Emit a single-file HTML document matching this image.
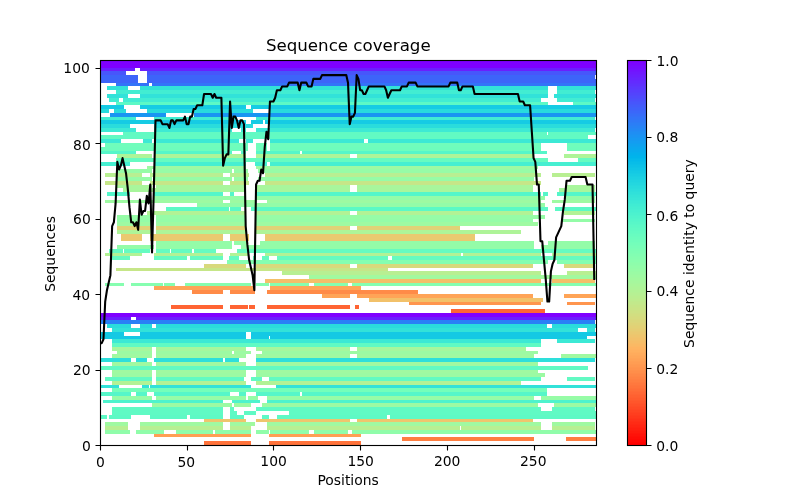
<!DOCTYPE html>
<html lang="en"><head><meta charset="utf-8"><title>Sequence coverage</title>
<style>
html,body{margin:0;padding:0;background:#fff;width:800px;height:500px;overflow:hidden}
svg{display:block}
text{font-family:'DejaVu Sans','Liberation Sans',sans-serif;fill:#000}
</style></head><body>
<svg width="800" height="500" viewBox="0 0 800 500">
<rect width="800" height="500" fill="#fff"/>
<g shape-rendering="crispEdges">
<path fill="#7f00ff" d="M100 60h496v4h-496z"/>
<path fill="#7f00ff" d="M100 64h496v4h-496z"/>
<path fill="#6b1ffe" d="M100 68h35v3h-35zM140 68h456v3h-456z"/>
<path fill="#4756fb" d="M100 71h26v4h-26zM147 71h449v4h-449z"/>
<path fill="#3d64f9" d="M100 75h38v4h-38zM147 75h448v4h-448z"/>
<path fill="#3d64f9" d="M100 79h38v4h-38zM147 79h449v4h-449z"/>
<path fill="#3373f8" d="M116 83h33v3h-33zM152 83h444v3h-444z"/>
<path fill="#32e2d9" d="M107 86h21v4h-21zM140 86h408v4h-408zM557 86h39v4h-39z"/>
<path fill="#42edd2" d="M116 90h432v4h-432zM557 90h38v4h-38z"/>
<path fill="#32e2d9" d="M107 94h21v4h-21zM140 94h408v4h-408zM554 94h42v4h-42z"/>
<path fill="#42edd2" d="M109 98h10v4h-10zM123 98h418v4h-418zM557 98h38v4h-38z"/>
<path fill="#5cf9c6" d="M116 102h432v3h-432zM573 102h23v3h-23z"/>
<path fill="#16cbe4" d="M100 105h24v4h-24zM140 105h106v4h-106zM251 105h345v4h-345z"/>
<path fill="#28dbdd" d="M100 109h9v4h-9zM114 109h12v4h-12zM147 109h106v4h-106zM270 109h326v4h-326z"/>
<path fill="#1995f2" d="M110 113h56v4h-56zM194 113h402v4h-402z"/>
<path fill="#42edd2" d="M100 117h36v3h-36zM154 117h83v3h-83zM256 117h339v3h-339z"/>
<path fill="#16cbe4" d="M100 120h146v4h-146zM251 120h12v4h-12zM265 120h331v4h-331z"/>
<path fill="#2adcdc" d="M100 124h30v4h-30zM154 124h99v4h-99zM270 124h326v4h-326z"/>
<path fill="#3eead4" d="M100 128h36v4h-36zM154 128h78v4h-78zM241 128h5v4h-5zM256 128h339v4h-339z"/>
<path fill="#62fac3" d="M123 132h424v3h-424zM548 132h48v3h-48z"/>
<path fill="#62fac3" d="M100 135h488v4h-488z"/>
<path fill="#3ce9d5" d="M100 139h21v4h-21zM143 139h9v4h-9zM154 139h85v4h-85zM246 139h7v4h-7zM270 139h94v4h-94zM368 139h228v4h-228z"/>
<path fill="#70fdbc" d="M105 143h143v4h-143zM256 143h11v4h-11zM270 143h271v4h-271zM567 143h29v4h-29z"/>
<path fill="#6efdbd" d="M100 147h148v4h-148zM256 147h11v4h-11zM270 147h271v4h-271zM567 147h29v4h-29z"/>
<path fill="#56f6c9" d="M100 151h36v3h-36zM154 151h78v3h-78zM241 151h5v3h-5zM256 151h44v3h-44zM302 151h245v3h-245z"/>
<path fill="#aef498" d="M117 154h35v4h-35zM154 154h92v4h-92zM256 154h94v4h-94zM357 154h177v4h-177zM564 154h32v4h-32z"/>
<path fill="#66fbc1" d="M116 158h107v4h-107zM225 158h323v4h-323zM578 158h18v4h-18z"/>
<path fill="#46efd1" d="M100 162h30v4h-30zM154 162h92v4h-92zM255 162h12v4h-12zM270 162h326v4h-326z"/>
<path fill="#9efaa2" d="M147 166h99v3h-99zM256 166h282v3h-282z"/>
<path fill="#96fca7" d="M117 169h35v4h-35zM154 169h78v4h-78zM234 169h14v4h-14zM258 169h278v4h-278z"/>
<path fill="#b8ef92" d="M105 173h37v4h-37zM150 173h73v4h-73zM230 173h19v4h-19zM265 173h276v4h-276zM552 173h43v4h-43z"/>
<path fill="#96fca7" d="M117 177h35v4h-35zM154 177h78v4h-78zM234 177h14v4h-14zM258 177h276v4h-276z"/>
<path fill="#c6e688" d="M105 181h37v4h-37zM150 181h73v4h-73zM230 181h19v4h-19zM265 181h276v4h-276z"/>
<path fill="#a8f69c" d="M117 185h35v3h-35zM156 185h90v3h-90zM256 185h94v3h-94zM357 185h176v3h-176zM566 185h29v3h-29z"/>
<path fill="#a8f69c" d="M123 188h123v4h-123zM256 188h94v4h-94zM357 188h176v4h-176zM559 188h36v4h-36z"/>
<path fill="#54f6ca" d="M107 192h23v4h-23zM154 192h69v4h-69zM230 192h4v4h-4zM256 192h285v4h-285zM543 192h5v4h-5zM557 192h39v4h-39z"/>
<path fill="#94fca8" d="M154 196h92v4h-92zM256 196h289v4h-289zM566 196h29v4h-29z"/>
<path fill="#9efaa2" d="M105 200h118v3h-118zM230 200h25v3h-25zM267 200h274v3h-274zM552 200h43v3h-43z"/>
<path fill="#94fca8" d="M197 203h348v4h-348z"/>
<path fill="#5cf9c6" d="M166 207h63v4h-63zM230 207h11v4h-11zM251 207h297v4h-297zM555 207h41v4h-41z"/>
<path fill="#b2f295" d="M147 211h99v4h-99zM256 211h94v4h-94zM357 211h176v4h-176zM564 211h31v4h-31z"/>
<path fill="#96fca7" d="M117 215h35v4h-35zM156 215h90v4h-90zM256 215h289v4h-289z"/>
<path fill="#94fca8" d="M117 219h35v3h-35zM156 219h90v3h-90zM256 219h277v3h-277zM562 219h33v3h-33z"/>
<path fill="#9efaa2" d="M117 222h35v4h-35zM156 222h90v4h-90zM256 222h282v4h-282z"/>
<path fill="#e0d277" d="M117 226h35v4h-35zM156 226h90v4h-90zM256 226h94v4h-94zM357 226h103v4h-103z"/>
<path fill="#aef498" d="M117 230h35v4h-35zM156 230h90v4h-90zM256 230h265v4h-265z"/>
<path fill="#eac970" d="M121 234h21v3h-21zM150 234h73v3h-73zM230 234h19v3h-19zM265 234h210v3h-210z"/>
<path fill="#eac970" d="M121 237h21v4h-21zM150 237h73v4h-73zM230 237h19v4h-19zM265 237h210v4h-210z"/>
<path fill="#94fca8" d="M156 241h76v4h-76zM234 241h14v4h-14zM260 241h274v4h-274zM548 241h47v4h-47z"/>
<path fill="#94fca8" d="M117 245h37v4h-37zM156 245h76v4h-76zM241 245h293v4h-293zM541 245h54v4h-54z"/>
<path fill="#66fbc1" d="M109 249h14v4h-14zM124 249h26v4h-26zM156 249h14v4h-14zM171 249h21v4h-21zM194 249h22v4h-22zM237 249h359v4h-359z"/>
<path fill="#b2f295" d="M105 253h37v3h-37zM154 253h69v3h-69zM230 253h19v3h-19zM265 253h196v3h-196zM463 253h78v3h-78zM552 253h44v3h-44z"/>
<path fill="#66fbc1" d="M110 256h20v4h-20zM154 256h33v4h-33zM190 256h33v4h-33zM229 256h10v4h-10zM253 256h3v4h-3zM262 256h7v4h-7zM277 256h111v4h-111zM392 256h204v4h-204z"/>
<path fill="#84feb1" d="M227 260h321v4h-321zM557 260h39v4h-39z"/>
<path fill="#d8d97c" d="M204 264h42v4h-42zM256 264h94v4h-94zM357 264h176v4h-176zM564 264h31v4h-31z"/>
<path fill="#c6e688" d="M116 268h272v3h-272z"/>
<path fill="#b8ef92" d="M282 271h259v4h-259zM567 271h29v4h-29z"/>
<path fill="#a2f99f" d="M309 275h287v4h-287z"/>
<path fill="#f4bf69" d="M265 279h276v4h-276zM552 279h43v4h-43z"/>
<path fill="#86feb0" d="M105 283h19v3h-19zM131 283h32v3h-32zM164 283h11v3h-11zM185 283h66v3h-66zM256 283h13v3h-13zM270 283h39v3h-39zM314 283h34v3h-34zM352 283h244v3h-244z"/>
<path fill="#ffa457" d="M154 286h101v4h-101zM270 286h91v4h-91z"/>
<path fill="#ff8b48" d="M192 290h31v4h-31zM230 290h25v4h-25zM267 290h151v4h-151z"/>
<path fill="#ffa457" d="M322 294h28v4h-28zM357 294h176v4h-176zM564 294h32v4h-32z"/>
<path fill="#f2c16a" d="M369 298h174v4h-174z"/>
<path fill="#ff954e" d="M409 302h132v3h-132zM567 302h28v3h-28z"/>
<path fill="#ff6433" d="M171 305h52v4h-52zM230 305h18v4h-18zM249 305h6v4h-6zM267 305h83v4h-83zM355 305h4v4h-4z"/>
<path fill="#ff6433" d="M451 309h94v4h-94z"/>
<path fill="#7f00ff" d="M100 313h496v4h-496z"/>
<path fill="#6b1ffe" d="M100 317h31v3h-31zM136 317h460v3h-460z"/>
<path fill="#2980f6" d="M100 320h495v4h-495z"/>
<path fill="#2adcdc" d="M107 324h24v4h-24zM140 324h12v4h-12zM156 324h391v4h-391zM552 324h44v4h-44z"/>
<path fill="#32e2d9" d="M112 328h466v4h-466zM587 328h8v4h-8z"/>
<path fill="#14c9e4" d="M100 332h24v4h-24zM140 332h106v4h-106zM251 332h345v4h-345z"/>
<path fill="#14c9e4" d="M100 336h146v3h-146zM251 336h18v3h-18zM270 336h317v3h-317z"/>
<path fill="#3ce9d5" d="M112 339h429v4h-429zM557 339h38v4h-38z"/>
<path fill="#60fac4" d="M112 343h429v4h-429z"/>
<path fill="#a6f79d" d="M112 347h40v4h-40zM156 347h90v4h-90zM256 347h94v4h-94zM357 347h169v4h-169z"/>
<path fill="#9cfaa3" d="M117 351h35v3h-35zM156 351h76v3h-76zM234 351h17v3h-17zM262 351h276v3h-276z"/>
<path fill="#a0f9a1" d="M112 354h40v4h-40zM156 354h90v4h-90zM256 354h94v4h-94zM357 354h177v4h-177zM561 354h35v4h-35z"/>
<path fill="#2edfdb" d="M100 358h31v4h-31zM136 358h11v4h-11zM154 358h69v4h-69zM225 358h14v4h-14zM256 358h339v4h-339z"/>
<path fill="#a0f9a1" d="M112 362h40v4h-40zM156 362h90v4h-90zM256 362h282v4h-282z"/>
<path fill="#62fac3" d="M100 366h488v4h-488z"/>
<path fill="#a0f9a1" d="M112 370h40v3h-40zM156 370h90v3h-90zM256 370h282v3h-282z"/>
<path fill="#9cfaa3" d="M112 373h40v4h-40zM156 373h90v4h-90zM256 373h289v4h-289z"/>
<path fill="#62fac3" d="M105 377h47v4h-47zM156 377h88v4h-88zM251 377h11v4h-11zM269 377h272v4h-272zM567 377h28v4h-28z"/>
<path fill="#b2f295" d="M112 381h40v4h-40zM156 381h90v4h-90zM256 381h265v4h-265z"/>
<path fill="#32e2d9" d="M100 385h19v3h-19zM142 385h7v3h-7zM150 385h101v3h-101zM276 385h320v3h-320z"/>
<path fill="#74feba" d="M112 388h435v4h-435z"/>
<path fill="#56f6c9" d="M100 392h31v4h-31zM136 392h11v4h-11zM154 392h76v4h-76zM239 392h7v4h-7zM256 392h44v4h-44zM302 392h245v4h-245z"/>
<path fill="#96fca7" d="M112 396h40v4h-40zM156 396h90v4h-90zM248 396h10v4h-10zM267 396h267v4h-267zM541 396h55v4h-55z"/>
<path fill="#4ef3cd" d="M103 400h120v3h-120zM232 400h28v3h-28zM267 400h329v3h-329z"/>
<path fill="#9cfaa3" d="M152 403h80v4h-80zM234 403h17v4h-17zM262 403h276v4h-276zM554 403h42v4h-42z"/>
<path fill="#60fac4" d="M112 407h111v4h-111zM230 407h4v4h-4zM256 407h285v4h-285zM552 407h43v4h-43z"/>
<path fill="#60fac4" d="M112 411h111v4h-111zM230 411h7v4h-7zM244 411h12v4h-12zM289 411h307v4h-307z"/>
<path fill="#5ef9c5" d="M100 415h7v4h-7zM109 415h22v4h-22zM150 415h37v4h-37zM190 415h33v4h-33zM230 415h14v4h-14zM262 415h7v4h-7zM277 415h110v4h-110zM390 415h206v4h-206z"/>
<path fill="#eec56d" d="M204 419h42v3h-42zM256 419h94v3h-94zM357 419h176v3h-176z"/>
<path fill="#a0f9a1" d="M105 422h23v4h-23zM140 422h83v4h-83zM230 422h25v4h-25zM267 422h274v4h-274zM552 422h43v4h-43z"/>
<path fill="#b8ef92" d="M105 426h23v4h-23zM140 426h83v4h-83zM230 426h21v4h-21zM267 426h193v4h-193zM461 426h80v4h-80zM552 426h43v4h-43z"/>
<path fill="#90fdaa" d="M105 430h25v4h-25zM136 430h28v4h-28zM176 430h37v4h-37zM215 430h36v4h-36zM256 430h13v4h-13zM270 430h39v4h-39zM314 430h34v4h-34zM352 430h244v4h-244z"/>
<path fill="#ff9f54" d="M154 434h97v3h-97zM269 434h92v3h-92z"/>
<path fill="#ff7e41" d="M402 437h132v4h-132zM566 437h30v4h-30z"/>
<path fill="#ff733b" d="M204 441h47v4h-47zM269 441h92v4h-92z"/>
</g>
<clipPath id="axclip"><rect x="100" y="60" width="496" height="385"/></clipPath>
<polyline clip-path="url(#axclip)" points="100.00,343.09 101.73,343.09 103.47,339.31 105.20,301.57 106.94,290.25 108.67,282.70 110.41,275.15 112.14,226.08 113.87,222.30 115.61,203.43 117.34,161.91 119.08,169.46 120.81,165.69 122.55,158.14 124.28,165.69 126.01,173.24 127.75,188.33 129.48,207.21 131.22,222.30 132.95,222.30 134.69,226.08 136.42,222.30 138.15,229.85 139.89,199.66 141.62,214.75 143.36,210.98 145.09,210.98 146.83,195.88 148.56,203.43 150.29,184.56 152.03,252.50 153.76,192.11 155.50,120.39 157.23,120.39 158.97,120.39 160.70,120.39 162.43,124.17 164.17,124.17 165.90,124.17 167.64,124.17 169.37,127.94 171.10,120.39 172.84,120.39 174.57,124.17 176.31,120.39 178.04,120.39 179.78,120.39 181.51,120.39 183.24,120.39 184.98,116.62 186.71,124.17 188.45,124.17 190.18,116.62 191.92,116.62 193.65,109.07 195.38,109.07 197.12,105.29 198.85,105.29 200.59,105.29 202.32,105.29 204.06,93.97 205.79,93.97 207.52,93.97 209.26,93.97 210.99,93.97 212.73,97.75 214.46,93.97 216.20,97.75 217.93,97.75 219.66,97.75 221.40,97.75 223.13,165.69 224.87,158.14 226.60,154.36 228.34,154.36 230.07,101.52 231.80,127.94 233.54,116.62 235.27,116.62 237.01,120.39 238.74,127.94 240.48,120.39 242.21,120.39 243.94,124.17 245.68,226.08 247.41,244.95 249.15,260.05 250.88,267.60 252.62,275.15 254.35,290.25 256.08,184.56 257.82,180.78 259.55,180.78 261.29,169.46 263.02,173.24 264.76,146.81 266.49,131.72 268.22,139.26 269.96,101.52 271.69,101.52 273.43,101.52 275.16,97.75 276.90,90.20 278.63,90.20 280.36,90.20 282.10,86.42 283.83,86.42 285.57,86.42 287.30,86.42 289.03,82.65 290.77,82.65 292.50,82.65 294.24,82.65 295.97,82.65 297.71,82.65 299.44,90.20 301.17,82.65 302.91,82.65 304.64,82.65 306.38,82.65 308.11,86.42 309.85,86.42 311.58,86.42 313.31,78.87 315.05,78.87 316.78,78.87 318.52,78.87 320.25,78.87 321.99,75.10 323.72,75.10 325.45,75.10 327.19,75.10 328.92,75.10 330.66,75.10 332.39,75.10 334.13,75.10 335.86,75.10 337.59,75.10 339.33,75.10 341.06,75.10 342.80,75.10 344.53,75.10 346.27,75.10 348.00,82.65 349.73,124.17 351.47,116.62 353.20,116.62 354.94,112.84 356.67,75.10 358.41,78.87 360.14,90.20 361.87,90.20 363.61,93.97 365.34,93.97 367.08,90.20 368.81,86.42 370.55,86.42 372.28,86.42 374.01,86.42 375.75,86.42 377.48,86.42 379.22,86.42 380.95,86.42 382.69,86.42 384.42,86.42 386.15,90.20 387.89,97.75 389.62,93.97 391.36,90.20 393.09,90.20 394.83,90.20 396.56,90.20 398.29,90.20 400.03,90.20 401.76,86.42 403.50,86.42 405.23,86.42 406.97,86.42 408.70,82.65 410.43,82.65 412.17,82.65 413.90,82.65 415.64,82.65 417.37,86.42 419.10,86.42 420.84,86.42 422.57,86.42 424.31,86.42 426.04,86.42 427.78,86.42 429.51,86.42 431.24,86.42 432.98,86.42 434.71,86.42 436.45,86.42 438.18,86.42 439.92,86.42 441.65,86.42 443.38,86.42 445.12,86.42 446.85,86.42 448.59,86.42 450.32,82.65 452.06,82.65 453.79,82.65 455.52,82.65 457.26,82.65 458.99,90.20 460.73,90.20 462.46,86.42 464.20,86.42 465.93,86.42 467.66,86.42 469.40,86.42 471.13,86.42 472.87,86.42 474.60,93.97 476.34,93.97 478.07,93.97 479.80,93.97 481.54,93.97 483.27,93.97 485.01,93.97 486.74,93.97 488.48,93.97 490.21,93.97 491.94,93.97 493.68,93.97 495.41,93.97 497.15,93.97 498.88,93.97 500.62,93.97 502.35,93.97 504.08,93.97 505.82,93.97 507.55,93.97 509.29,93.97 511.02,93.97 512.76,93.97 514.49,93.97 516.22,93.97 517.96,93.97 519.69,101.52 521.43,101.52 523.16,101.52 524.90,105.29 526.63,105.29 528.36,105.29 530.10,105.29 531.83,131.72 533.57,158.14 535.30,161.91 537.03,184.56 538.77,184.56 540.50,241.18 542.24,241.18 543.97,260.05 545.71,278.92 547.44,301.57 549.17,301.57 550.91,271.37 552.64,263.82 554.38,260.05 556.11,237.40 557.85,233.63 559.58,229.85 561.31,226.08 563.05,210.98 564.78,199.66 566.52,180.78 568.25,180.78 569.99,180.78 571.72,177.01 573.45,177.01 575.19,177.01 576.92,177.01 578.66,177.01 580.39,177.01 582.13,177.01 583.86,177.01 585.59,177.01 587.33,184.56 589.06,184.56 590.80,184.56 592.53,184.56 594.27,278.92" fill="none" stroke="#000" stroke-width="2.0833" stroke-linejoin="round" stroke-linecap="square"/>
<rect x="100.5" y="60.5" width="496" height="385" fill="none" stroke="#000" stroke-width="1.111"/>
<g shape-rendering="crispEdges">
<rect x="627" y="60" width="19" height="2" fill="#7f00ff"/>
<rect x="627" y="62" width="19" height="1" fill="#7d03fe"/>
<rect x="627" y="63" width="19" height="2" fill="#7b06fe"/>
<rect x="627" y="65" width="19" height="1" fill="#7909fe"/>
<rect x="627" y="66" width="19" height="2" fill="#770cfe"/>
<rect x="627" y="68" width="19" height="1" fill="#750ffe"/>
<rect x="627" y="69" width="19" height="2" fill="#7312fe"/>
<rect x="627" y="71" width="19" height="1" fill="#7115fe"/>
<rect x="627" y="72" width="19" height="2" fill="#6f19fe"/>
<rect x="627" y="74" width="19" height="1" fill="#6d1cfe"/>
<rect x="627" y="75" width="19" height="2" fill="#6b1ffe"/>
<rect x="627" y="77" width="19" height="1" fill="#6922fe"/>
<rect x="627" y="78" width="19" height="2" fill="#6725fe"/>
<rect x="627" y="80" width="19" height="1" fill="#6528fe"/>
<rect x="627" y="81" width="19" height="2" fill="#632bfe"/>
<rect x="627" y="83" width="19" height="1" fill="#612efd"/>
<rect x="627" y="84" width="19" height="2" fill="#5f31fd"/>
<rect x="627" y="86" width="19" height="1" fill="#5d35fd"/>
<rect x="627" y="87" width="19" height="2" fill="#5b38fd"/>
<rect x="627" y="89" width="19" height="1" fill="#593bfd"/>
<rect x="627" y="90" width="19" height="2" fill="#573efd"/>
<rect x="627" y="92" width="19" height="1" fill="#5541fc"/>
<rect x="627" y="93" width="19" height="2" fill="#5344fc"/>
<rect x="627" y="95" width="19" height="1" fill="#5147fc"/>
<rect x="627" y="96" width="19" height="2" fill="#4f4afc"/>
<rect x="627" y="98" width="19" height="1" fill="#4d4dfb"/>
<rect x="627" y="99" width="19" height="2" fill="#4b50fb"/>
<rect x="627" y="101" width="19" height="1" fill="#4953fb"/>
<rect x="627" y="102" width="19" height="2" fill="#4756fb"/>
<rect x="627" y="104" width="19" height="1" fill="#4559fa"/>
<rect x="627" y="105" width="19" height="2" fill="#435cfa"/>
<rect x="627" y="107" width="19" height="1" fill="#415ffa"/>
<rect x="627" y="108" width="19" height="2" fill="#3f61fa"/>
<rect x="627" y="110" width="19" height="1" fill="#3d64f9"/>
<rect x="627" y="111" width="19" height="2" fill="#3b67f9"/>
<rect x="627" y="113" width="19" height="1" fill="#396af9"/>
<rect x="627" y="114" width="19" height="2" fill="#376df8"/>
<rect x="627" y="116" width="19" height="1" fill="#3570f8"/>
<rect x="627" y="117" width="19" height="2" fill="#3373f8"/>
<rect x="627" y="119" width="19" height="1" fill="#3175f7"/>
<rect x="627" y="120" width="19" height="2" fill="#2f78f7"/>
<rect x="627" y="122" width="19" height="1" fill="#2d7bf6"/>
<rect x="627" y="123" width="19" height="2" fill="#2b7ef6"/>
<rect x="627" y="125" width="19" height="1" fill="#2980f6"/>
<rect x="627" y="126" width="19" height="2" fill="#2783f5"/>
<rect x="627" y="128" width="19" height="1" fill="#2586f5"/>
<rect x="627" y="129" width="19" height="2" fill="#2388f4"/>
<rect x="627" y="131" width="19" height="1" fill="#218bf4"/>
<rect x="627" y="132" width="19" height="2" fill="#1f8ef3"/>
<rect x="627" y="134" width="19" height="1" fill="#1d90f3"/>
<rect x="627" y="135" width="19" height="2" fill="#1b93f3"/>
<rect x="627" y="137" width="19" height="1" fill="#1995f2"/>
<rect x="627" y="138" width="19" height="2" fill="#1798f2"/>
<rect x="627" y="140" width="19" height="1" fill="#159af1"/>
<rect x="627" y="141" width="19" height="2" fill="#139df1"/>
<rect x="627" y="143" width="19" height="1" fill="#119ff0"/>
<rect x="627" y="144" width="19" height="2" fill="#0fa2ef"/>
<rect x="627" y="146" width="19" height="1" fill="#0da4ef"/>
<rect x="627" y="147" width="19" height="2" fill="#0ba7ee"/>
<rect x="627" y="149" width="19" height="1" fill="#09a9ee"/>
<rect x="627" y="150" width="19" height="2" fill="#07abed"/>
<rect x="627" y="152" width="19" height="1" fill="#05aeed"/>
<rect x="627" y="153" width="19" height="2" fill="#03b0ec"/>
<rect x="627" y="155" width="19" height="1" fill="#01b2ec"/>
<rect x="627" y="156" width="19" height="2" fill="#00b4eb"/>
<rect x="627" y="158" width="19" height="1" fill="#02b7ea"/>
<rect x="627" y="159" width="19" height="2" fill="#04b9ea"/>
<rect x="627" y="161" width="19" height="1" fill="#06bbe9"/>
<rect x="627" y="162" width="19" height="2" fill="#08bde8"/>
<rect x="627" y="164" width="19" height="1" fill="#0abfe8"/>
<rect x="627" y="165" width="19" height="2" fill="#0cc1e7"/>
<rect x="627" y="167" width="19" height="1" fill="#0ec3e6"/>
<rect x="627" y="168" width="19" height="2" fill="#10c5e6"/>
<rect x="627" y="170" width="19" height="1" fill="#12c7e5"/>
<rect x="627" y="171" width="19" height="2" fill="#14c9e4"/>
<rect x="627" y="173" width="19" height="1" fill="#16cbe4"/>
<rect x="627" y="174" width="19" height="2" fill="#18cde3"/>
<rect x="627" y="176" width="19" height="1" fill="#1acfe2"/>
<rect x="627" y="177" width="19" height="2" fill="#1cd1e2"/>
<rect x="627" y="179" width="19" height="1" fill="#1ed2e1"/>
<rect x="627" y="180" width="19" height="2" fill="#20d4e0"/>
<rect x="627" y="182" width="19" height="1" fill="#22d6df"/>
<rect x="627" y="183" width="19" height="2" fill="#24d7df"/>
<rect x="627" y="185" width="19" height="1" fill="#26d9de"/>
<rect x="627" y="186" width="19" height="2" fill="#28dbdd"/>
<rect x="627" y="188" width="19" height="1" fill="#2adcdc"/>
<rect x="627" y="189" width="19" height="2" fill="#2cdedc"/>
<rect x="627" y="191" width="19" height="1" fill="#2edfdb"/>
<rect x="627" y="192" width="19" height="2" fill="#30e1da"/>
<rect x="627" y="194" width="19" height="1" fill="#32e2d9"/>
<rect x="627" y="195" width="19" height="2" fill="#34e4d8"/>
<rect x="627" y="197" width="19" height="1" fill="#36e5d7"/>
<rect x="627" y="198" width="19" height="2" fill="#38e6d7"/>
<rect x="627" y="200" width="19" height="1" fill="#3ae8d6"/>
<rect x="627" y="201" width="19" height="2" fill="#3ce9d5"/>
<rect x="627" y="203" width="19" height="1" fill="#3eead4"/>
<rect x="627" y="204" width="19" height="2" fill="#40ecd3"/>
<rect x="627" y="206" width="19" height="1" fill="#42edd2"/>
<rect x="627" y="207" width="19" height="2" fill="#44eed1"/>
<rect x="627" y="209" width="19" height="1" fill="#46efd1"/>
<rect x="627" y="210" width="19" height="2" fill="#48f0d0"/>
<rect x="627" y="212" width="19" height="1" fill="#4af1cf"/>
<rect x="627" y="213" width="19" height="2" fill="#4cf2ce"/>
<rect x="627" y="215" width="19" height="1" fill="#4ef3cd"/>
<rect x="627" y="216" width="19" height="2" fill="#50f4cc"/>
<rect x="627" y="218" width="19" height="1" fill="#52f5cb"/>
<rect x="627" y="219" width="19" height="2" fill="#54f6ca"/>
<rect x="627" y="221" width="19" height="1" fill="#56f6c9"/>
<rect x="627" y="222" width="19" height="2" fill="#58f7c8"/>
<rect x="627" y="224" width="19" height="1" fill="#5af8c7"/>
<rect x="627" y="225" width="19" height="2" fill="#5cf9c6"/>
<rect x="627" y="227" width="19" height="1" fill="#5ef9c5"/>
<rect x="627" y="228" width="19" height="2" fill="#60fac4"/>
<rect x="627" y="230" width="19" height="1" fill="#62fac3"/>
<rect x="627" y="231" width="19" height="2" fill="#64fbc2"/>
<rect x="627" y="233" width="19" height="1" fill="#66fbc1"/>
<rect x="627" y="234" width="19" height="2" fill="#68fcc0"/>
<rect x="627" y="236" width="19" height="1" fill="#6afcbf"/>
<rect x="627" y="237" width="19" height="2" fill="#6cfdbe"/>
<rect x="627" y="239" width="19" height="1" fill="#6efdbd"/>
<rect x="627" y="240" width="19" height="2" fill="#70fdbc"/>
<rect x="627" y="242" width="19" height="1" fill="#72febb"/>
<rect x="627" y="243" width="19" height="2" fill="#74feba"/>
<rect x="627" y="245" width="19" height="1" fill="#76feb9"/>
<rect x="627" y="246" width="19" height="2" fill="#78feb8"/>
<rect x="627" y="248" width="19" height="1" fill="#7afeb7"/>
<rect x="627" y="249" width="19" height="2" fill="#7cfeb5"/>
<rect x="627" y="251" width="19" height="2" fill="#7efeb4"/>
<rect x="627" y="253" width="19" height="1" fill="#80feb3"/>
<rect x="627" y="254" width="19" height="2" fill="#82feb2"/>
<rect x="627" y="256" width="19" height="1" fill="#84feb1"/>
<rect x="627" y="257" width="19" height="2" fill="#86feb0"/>
<rect x="627" y="259" width="19" height="1" fill="#88feaf"/>
<rect x="627" y="260" width="19" height="2" fill="#8afeae"/>
<rect x="627" y="262" width="19" height="1" fill="#8cfeac"/>
<rect x="627" y="263" width="19" height="2" fill="#8efdab"/>
<rect x="627" y="265" width="19" height="1" fill="#90fdaa"/>
<rect x="627" y="266" width="19" height="2" fill="#92fda9"/>
<rect x="627" y="268" width="19" height="1" fill="#94fca8"/>
<rect x="627" y="269" width="19" height="2" fill="#96fca7"/>
<rect x="627" y="271" width="19" height="1" fill="#98fba5"/>
<rect x="627" y="272" width="19" height="2" fill="#9afba4"/>
<rect x="627" y="274" width="19" height="1" fill="#9cfaa3"/>
<rect x="627" y="275" width="19" height="2" fill="#9efaa2"/>
<rect x="627" y="277" width="19" height="1" fill="#a0f9a1"/>
<rect x="627" y="278" width="19" height="2" fill="#a2f99f"/>
<rect x="627" y="280" width="19" height="1" fill="#a4f89e"/>
<rect x="627" y="281" width="19" height="2" fill="#a6f79d"/>
<rect x="627" y="283" width="19" height="1" fill="#a8f69c"/>
<rect x="627" y="284" width="19" height="2" fill="#aaf69a"/>
<rect x="627" y="286" width="19" height="1" fill="#acf599"/>
<rect x="627" y="287" width="19" height="2" fill="#aef498"/>
<rect x="627" y="289" width="19" height="1" fill="#b0f397"/>
<rect x="627" y="290" width="19" height="2" fill="#b2f295"/>
<rect x="627" y="292" width="19" height="1" fill="#b4f194"/>
<rect x="627" y="293" width="19" height="2" fill="#b6f093"/>
<rect x="627" y="295" width="19" height="1" fill="#b8ef92"/>
<rect x="627" y="296" width="19" height="2" fill="#baee90"/>
<rect x="627" y="298" width="19" height="1" fill="#bced8f"/>
<rect x="627" y="299" width="19" height="2" fill="#beec8e"/>
<rect x="627" y="301" width="19" height="1" fill="#c0ea8c"/>
<rect x="627" y="302" width="19" height="2" fill="#c2e98b"/>
<rect x="627" y="304" width="19" height="1" fill="#c4e88a"/>
<rect x="627" y="305" width="19" height="2" fill="#c6e688"/>
<rect x="627" y="307" width="19" height="1" fill="#c8e587"/>
<rect x="627" y="308" width="19" height="2" fill="#cae486"/>
<rect x="627" y="310" width="19" height="1" fill="#cce284"/>
<rect x="627" y="311" width="19" height="2" fill="#cee183"/>
<rect x="627" y="313" width="19" height="1" fill="#d0df82"/>
<rect x="627" y="314" width="19" height="2" fill="#d2de80"/>
<rect x="627" y="316" width="19" height="1" fill="#d4dc7f"/>
<rect x="627" y="317" width="19" height="2" fill="#d6db7e"/>
<rect x="627" y="319" width="19" height="1" fill="#d8d97c"/>
<rect x="627" y="320" width="19" height="2" fill="#dad77b"/>
<rect x="627" y="322" width="19" height="1" fill="#dcd67a"/>
<rect x="627" y="323" width="19" height="2" fill="#ded478"/>
<rect x="627" y="325" width="19" height="1" fill="#e0d277"/>
<rect x="627" y="326" width="19" height="2" fill="#e2d175"/>
<rect x="627" y="328" width="19" height="1" fill="#e4cf74"/>
<rect x="627" y="329" width="19" height="2" fill="#e6cd73"/>
<rect x="627" y="331" width="19" height="1" fill="#e8cb71"/>
<rect x="627" y="332" width="19" height="2" fill="#eac970"/>
<rect x="627" y="334" width="19" height="1" fill="#ecc76e"/>
<rect x="627" y="335" width="19" height="2" fill="#eec56d"/>
<rect x="627" y="337" width="19" height="1" fill="#f0c36c"/>
<rect x="627" y="338" width="19" height="2" fill="#f2c16a"/>
<rect x="627" y="340" width="19" height="1" fill="#f4bf69"/>
<rect x="627" y="341" width="19" height="2" fill="#f6bd67"/>
<rect x="627" y="343" width="19" height="1" fill="#f8bb66"/>
<rect x="627" y="344" width="19" height="2" fill="#fab964"/>
<rect x="627" y="346" width="19" height="1" fill="#fcb763"/>
<rect x="627" y="347" width="19" height="2" fill="#feb461"/>
<rect x="627" y="349" width="19" height="1" fill="#ffb260"/>
<rect x="627" y="350" width="19" height="2" fill="#ffb05f"/>
<rect x="627" y="352" width="19" height="1" fill="#ffae5d"/>
<rect x="627" y="353" width="19" height="2" fill="#ffab5c"/>
<rect x="627" y="355" width="19" height="1" fill="#ffa95a"/>
<rect x="627" y="356" width="19" height="2" fill="#ffa759"/>
<rect x="627" y="358" width="19" height="1" fill="#ffa457"/>
<rect x="627" y="359" width="19" height="2" fill="#ffa256"/>
<rect x="627" y="361" width="19" height="1" fill="#ff9f54"/>
<rect x="627" y="362" width="19" height="2" fill="#ff9d53"/>
<rect x="627" y="364" width="19" height="1" fill="#ff9a51"/>
<rect x="627" y="365" width="19" height="2" fill="#ff9850"/>
<rect x="627" y="367" width="19" height="1" fill="#ff954e"/>
<rect x="627" y="368" width="19" height="2" fill="#ff934d"/>
<rect x="627" y="370" width="19" height="1" fill="#ff904b"/>
<rect x="627" y="371" width="19" height="2" fill="#ff8e4a"/>
<rect x="627" y="373" width="19" height="1" fill="#ff8b48"/>
<rect x="627" y="374" width="19" height="2" fill="#ff8847"/>
<rect x="627" y="376" width="19" height="1" fill="#ff8645"/>
<rect x="627" y="377" width="19" height="2" fill="#ff8344"/>
<rect x="627" y="379" width="19" height="1" fill="#ff8042"/>
<rect x="627" y="380" width="19" height="2" fill="#ff7e41"/>
<rect x="627" y="382" width="19" height="1" fill="#ff7b3f"/>
<rect x="627" y="383" width="19" height="2" fill="#ff783e"/>
<rect x="627" y="385" width="19" height="1" fill="#ff753c"/>
<rect x="627" y="386" width="19" height="2" fill="#ff733b"/>
<rect x="627" y="388" width="19" height="1" fill="#ff7039"/>
<rect x="627" y="389" width="19" height="2" fill="#ff6d38"/>
<rect x="627" y="391" width="19" height="1" fill="#ff6a36"/>
<rect x="627" y="392" width="19" height="2" fill="#ff6735"/>
<rect x="627" y="394" width="19" height="1" fill="#ff6433"/>
<rect x="627" y="395" width="19" height="2" fill="#ff6131"/>
<rect x="627" y="397" width="19" height="1" fill="#ff5f30"/>
<rect x="627" y="398" width="19" height="2" fill="#ff5c2e"/>
<rect x="627" y="400" width="19" height="1" fill="#ff592d"/>
<rect x="627" y="401" width="19" height="2" fill="#ff562b"/>
<rect x="627" y="403" width="19" height="1" fill="#ff532a"/>
<rect x="627" y="404" width="19" height="2" fill="#ff5028"/>
<rect x="627" y="406" width="19" height="1" fill="#ff4d27"/>
<rect x="627" y="407" width="19" height="2" fill="#ff4a25"/>
<rect x="627" y="409" width="19" height="1" fill="#ff4724"/>
<rect x="627" y="410" width="19" height="2" fill="#ff4422"/>
<rect x="627" y="412" width="19" height="1" fill="#ff4120"/>
<rect x="627" y="413" width="19" height="2" fill="#ff3e1f"/>
<rect x="627" y="415" width="19" height="1" fill="#ff3b1d"/>
<rect x="627" y="416" width="19" height="2" fill="#ff381c"/>
<rect x="627" y="418" width="19" height="1" fill="#ff351a"/>
<rect x="627" y="419" width="19" height="2" fill="#ff3119"/>
<rect x="627" y="421" width="19" height="1" fill="#ff2e17"/>
<rect x="627" y="422" width="19" height="2" fill="#ff2b15"/>
<rect x="627" y="424" width="19" height="1" fill="#ff2814"/>
<rect x="627" y="425" width="19" height="2" fill="#ff2512"/>
<rect x="627" y="427" width="19" height="1" fill="#ff2211"/>
<rect x="627" y="428" width="19" height="2" fill="#ff1f0f"/>
<rect x="627" y="430" width="19" height="1" fill="#ff1c0e"/>
<rect x="627" y="431" width="19" height="2" fill="#ff190c"/>
<rect x="627" y="433" width="19" height="1" fill="#ff150a"/>
<rect x="627" y="434" width="19" height="2" fill="#ff1209"/>
<rect x="627" y="436" width="19" height="1" fill="#ff0f07"/>
<rect x="627" y="437" width="19" height="2" fill="#ff0c06"/>
<rect x="627" y="439" width="19" height="1" fill="#ff0904"/>
<rect x="627" y="440" width="19" height="2" fill="#ff0603"/>
<rect x="627" y="442" width="19" height="1" fill="#ff0301"/>
<rect x="627" y="443" width="19" height="2" fill="#ff0000"/>
</g>
<rect x="627.5" y="60.5" width="19" height="385" fill="none" stroke="#000" stroke-width="1.111"/>
<path d="M100.5 445.5 v5 M187.5 445.5 v5 M273.5 445.5 v5 M360.5 445.5 v5 M447.5 445.5 v5 M534.5 445.5 v5 M100.5 445.5 h-5 M100.5 370.5 h-5 M100.5 294.5 h-5 M100.5 219.5 h-5 M100.5 143.5 h-5 M100.5 68.5 h-5 M646.5 445.5 h5 M646.5 368.5 h5 M646.5 291.5 h5 M646.5 214.5 h5 M646.5 137.5 h5 M646.5 60.5 h5" stroke="#000" stroke-width="1.111" fill="none"/>
<g>
<text x="100.334" y="466.536" font-size="13.8889" text-anchor="middle">0</text>
<text x="186.279" y="466.531" font-size="13.8889" text-anchor="middle">50</text>
<text x="273.599" y="466.442" font-size="13.8889" text-anchor="middle">100</text>
<text x="360.623" y="466.447" font-size="13.8889" text-anchor="middle">150</text>
<text x="447.224" y="466.441" font-size="13.8889" text-anchor="middle">200</text>
<text x="533.271" y="466.427" font-size="13.8889" text-anchor="middle">250</text>
<text x="90.866" y="450.540" font-size="13.8889" text-anchor="end">0</text>
<text x="90.655" y="374.903" font-size="13.8889" text-anchor="end">20</text>
<text x="90.218" y="300.342" font-size="13.8889" text-anchor="end">40</text>
<text x="90.742" y="224.100" font-size="13.8889" text-anchor="end">60</text>
<text x="90.768" y="149.523" font-size="13.8889" text-anchor="end">80</text>
<text x="89.832" y="72.995" font-size="13.8889" text-anchor="end">100</text>
<text x="656.305" y="450.536" font-size="13.8889" text-anchor="start">0.0</text>
<text x="656.275" y="374.415" font-size="13.8889" text-anchor="start">0.2</text>
<text x="656.375" y="296.335" font-size="13.8889" text-anchor="start">0.4</text>
<text x="656.202" y="220.576" font-size="13.8889" text-anchor="start">0.6</text>
<text x="656.259" y="142.488" font-size="13.8889" text-anchor="start">0.8</text>
<text x="656.429" y="66.405" font-size="13.8889" text-anchor="start">1.0</text>
<text x="348.074" y="485.397" font-size="13.8889" text-anchor="middle">Positions</text>
<text x="55.384" y="253.949" font-size="13.8889" text-anchor="middle" transform="rotate(-90 55.384 253.949)">Sequences</text>
<text x="694.188" y="253.625" font-size="13.8889" text-anchor="middle" transform="rotate(-90 694.188 253.625)">Sequence identity to query</text>
<text x="348.284" y="51.255" font-size="16.6667" text-anchor="middle">Sequence coverage</text>
</g>
</svg>
</body></html>
